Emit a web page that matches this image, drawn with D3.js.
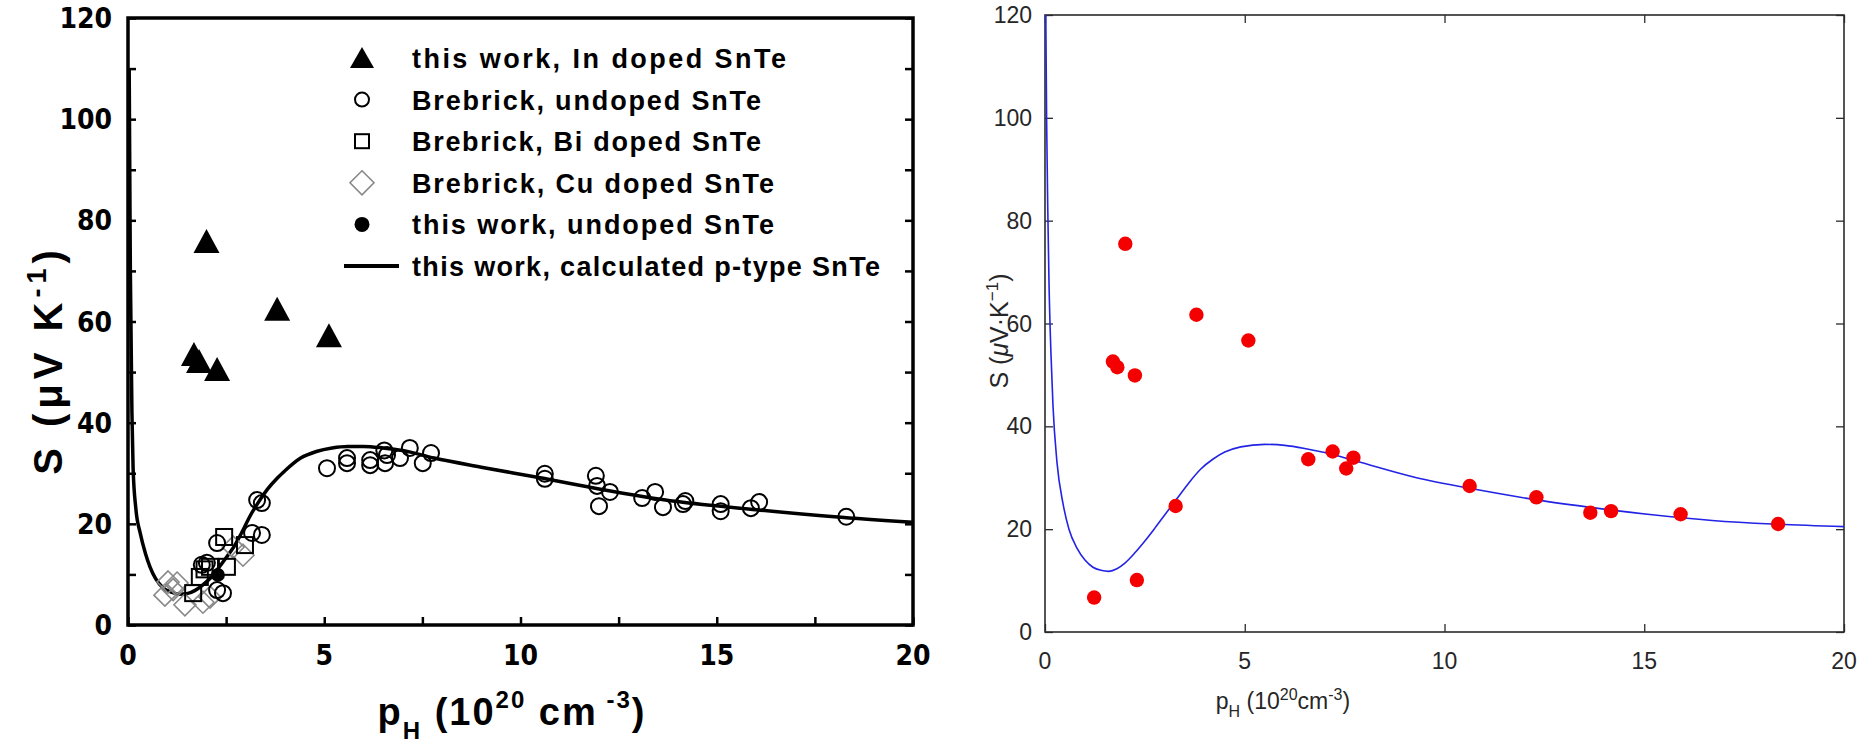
<!DOCTYPE html>
<html><head><meta charset="utf-8">
<script src="https://cdn.jsdelivr.net/npm/d3@7"></script>
<style>
html,body{margin:0;padding:0;background:#fff;}
svg{display:block;}
</style>
</head><body>
<svg id="chart" width="1873" height="745"></svg>
<script>
// ---------- Left panel data ----------
const xTicks = [0, 5, 10, 15, 20];
const yTicks = [0, 20, 40, 60, 80, 100, 120];

const inDopedX = [2.0, 3.8, 5.12, 1.68, 1.81, 2.27];
const inDopedS = [75.7, 62.3, 57.1, 53.4, 52.0, 50.4];

const brebUndopedX = [5.07,5.58,5.58,6.17,6.17,6.55,6.6,6.93,7.18,7.51,7.72,6.53,10.62,10.62,11.92,11.95,12.28,12.0,13.1,13.43,13.63,14.14,14.2,15.1,15.1,15.87,16.08,18.3,3.29,3.41,3.41,3.16,2.27,2.27,2.42,2.01,1.88];
const brebUndopedS = [31.0,33.0,32.0,32.6,31.6,32.0,33.6,33.0,35.0,32.0,34.0,34.5,29.9,28.9,29.5,27.5,26.3,23.5,25.1,26.3,23.3,23.9,24.5,23.9,22.5,23.1,24.3,21.4,24.7,24.1,17.8,18.2,16.2,6.9,6.3,12.3,11.9];

const brebBiX = [2.45, 2.98, 1.83, 1.66, 2.09, 2.52, 1.95];
const brebBiS = [17.4, 15.8, 9.5, 6.3, 11.5, 11.5, 11.0];

const brebCuX = [1.02, 1.25, 0.94, 1.45, 1.91, 2.93, 2.68, 2.09, 1.15];
const brebCuS = [8.5, 8.3, 5.9, 4.0, 4.5, 13.8, 15.4, 5.5, 7.0];

const thisUndopedX = [2.29];
const thisUndopedS = [9.9];

const calcLeftX = [0.03,0.06,0.1,0.13,0.2,0.31,0.45,0.56,0.7,0.9,1.1,1.3,1.5,1.7,1.9,2.1,2.3,2.5,2.7,2.9,3.1,3.3,3.55,3.8,4.0,4.4,4.8,5.2,5.6,6.0,6.5,7.0,7.8,9.0,10.5,12.0,14.0,16.0,18.0,20.0];
const calcLeftS = [110,70,42,31,23,18.2,14,11.5,9.2,7.3,6.5,6.1,6.2,6.8,7.9,9.3,11.2,13.3,15.5,18.3,21.4,24.0,26.8,29.0,30.5,33.0,34.3,35.0,35.3,35.3,35.0,34.5,33.0,31.2,29.1,26.9,24.4,22.8,21.4,20.3];

const legendLabels = ["this work, In doped SnTe","Brebrick, undoped SnTe","Brebrick, Bi doped SnTe","Brebrick, Cu doped SnTe","this work, undoped SnTe","this work, calculated p-type SnTe"];

// ---------- Right panel data ----------
const redX = [2.01,3.79,5.09,1.70,1.81,2.25,1.23,2.30,3.27,6.59,7.20,7.54,7.72,10.63,12.30,13.65,14.17,15.91,18.35];
const redS = [75.5,61.7,56.7,52.6,51.5,49.9,6.7,10.1,24.5,33.6,35.1,31.8,33.9,28.4,26.2,23.2,23.5,22.9,21.0];

const calcRightX = [0.02,0.04,0.07,0.1,0.15,0.2,0.3,0.45,0.6,0.8,1.0,1.2,1.4,1.6,1.8,2.0,2.25,2.5,2.75,3.0,3.3,3.6,3.9,4.2,4.5,4.9,5.5,6.0,6.5,7.0,7.8,9.3,10.8,12.3,13.8,15.2,16.7,18.2,20.0];
const calcRightS = [120,100,82,68,54,44,33,25,20,16.3,14,12.6,12,11.8,12.3,13.4,15.4,17.7,20.2,22.8,25.9,29,31.7,33.6,35,36,36.5,36.3,35.7,34.9,33.2,30.0,27.7,25.7,24.1,22.8,21.7,21.0,20.5];

const svg = d3.select("#chart");
const zip = (xs, ys) => xs.map((x, i) => [x, ys[i]]);

// ================= LEFT PANEL =================
(function(){
  const L = {x0:128, x1:913, y0:625, y1:18};
  const x = d3.scaleLinear().domain([0,20]).range([L.x0, L.x1]);
  const y = d3.scaleLinear().domain([0,120]).range([L.y0, L.y1]);
  const g = svg.append("g");
  const bold = "'Liberation Sans Narrow','DejaVu Sans Condensed','Liberation Sans',Arial,sans-serif";
  const wide = "'Liberation Sans',Arial,sans-serif";

  svg.append("clipPath").attr("id", "clipL").append("rect")
    .attr("x", L.x0).attr("y", L.y1).attr("width", L.x1-L.x0).attr("height", L.y0-L.y1);

  const minorX = d3.range(0, 20.01, 2.5);
  const minorY = d3.range(0, 120.01, 10);
  g.append("g").attr("transform", `translate(0,${L.y0})`)
    .call(d3.axisTop(x).tickValues(minorX).tickSize(8).tickFormat(""));
  g.append("g").attr("transform", `translate(${L.x0},0)`)
    .call(d3.axisRight(y).tickValues(minorY).tickSize(8).tickFormat(""));
  g.append("g").attr("transform", `translate(${L.x1},0)`)
    .call(d3.axisLeft(y).tickValues(minorY).tickSize(8).tickFormat(""));
  g.selectAll(".domain").remove();
  g.selectAll(".tick line").attr("stroke", "#000").attr("stroke-width", 2.5);

  g.append("rect").attr("x", L.x0).attr("y", L.y1).attr("width", L.x1-L.x0).attr("height", L.y0-L.y1)
    .attr("fill", "none").attr("stroke", "#000").attr("stroke-width", 3.5);

  g.append("g").selectAll("text").data(xTicks).join("text")
    .attr("x", d => x(d)).attr("y", 665).attr("text-anchor", "middle")
    .attr("font-family", bold).attr("font-weight", "bold").attr("font-size", 28)
    .text(d => d);
  g.append("g").selectAll("text").data(yTicks).join("text")
    .attr("x", 112).attr("y", d => y(d) + 10).attr("text-anchor", "end")
    .attr("font-family", bold).attr("font-weight", "bold").attr("font-size", 28)
    .text(d => d);

  // axis titles
  const yl = g.append("text").attr("transform", "translate(62,360) rotate(-90)")
    .attr("text-anchor", "middle").attr("font-family", wide).attr("font-weight", "bold").attr("font-size", 40)
    .attr("letter-spacing", 5);
  yl.append("tspan").text("S  (μV K");
  yl.append("tspan").attr("dy", -16).attr("font-size", 27).text("-1");
  yl.append("tspan").attr("dy", 16).text(")");

  const xl = g.append("text").attr("x", 512).attr("y", 725)
    .attr("text-anchor", "middle").attr("font-family", wide).attr("font-weight", "bold").attr("font-size", 38)
    .attr("letter-spacing", 2);
  xl.append("tspan").text("p");
  xl.append("tspan").attr("dy", 14).attr("font-size", 24).text("H");
  xl.append("tspan").attr("dy", -14).text(" (10");
  xl.append("tspan").attr("dy", -17).attr("font-size", 24).text("20");
  xl.append("tspan").attr("dy", 17).text(" cm");
  xl.append("tspan").attr("dy", -17).attr("font-size", 24).text(" -3");
  xl.append("tspan").attr("dy", 17).text(")");

  const plot = g.append("g").attr("clip-path", "url(#clipL)");

  plot.append("path").datum(zip(calcLeftX, calcLeftS))
    .attr("d", d3.line().x(d => x(d[0])).y(d => y(d[1])).curve(d3.curveMonotoneX))
    .attr("fill", "none").attr("stroke", "#000").attr("stroke-width", 3.5);

  plot.append("g").selectAll("path").data(zip(brebCuX, brebCuS)).join("path")
    .attr("transform", d => `translate(${x(d[0])},${y(d[1])})`)
    .attr("d", "M0,-11L11,0L0,11L-11,0Z")
    .attr("fill", "none").attr("stroke", "#888").attr("stroke-width", 1.6);
  plot.append("g").selectAll("rect").data(zip(brebBiX, brebBiS)).join("rect")
    .attr("x", d => x(d[0]) - 8).attr("y", d => y(d[1]) - 8).attr("width", 16).attr("height", 16)
    .attr("fill", "none").attr("stroke", "#000").attr("stroke-width", 2);
  plot.append("g").selectAll("circle").data(zip(brebUndopedX, brebUndopedS)).join("circle")
    .attr("cx", d => x(d[0])).attr("cy", d => y(d[1])).attr("r", 8)
    .attr("fill", "none").attr("stroke", "#000").attr("stroke-width", 2);
  plot.append("g").selectAll("circle").data(zip(thisUndopedX, thisUndopedS)).join("circle")
    .attr("cx", d => x(d[0])).attr("cy", d => y(d[1])).attr("r", 7).attr("fill", "#000");
  plot.append("g").selectAll("path").data(zip(inDopedX, inDopedS)).join("path")
    .attr("transform", d => `translate(${x(d[0])},${y(d[1])})`)
    .attr("d", "M0,-13L13,11L-13,11Z").attr("fill", "#000");

  // legend
  const lg = g.append("g");
  const lx = 362, ly0 = 58, dy = 41.6;
  const widths = [374, 349, 349, 362, 362, 468];
  lg.append("path").attr("transform", `translate(${lx},${ly0})`).attr("d", "M0,-11L12,10L-12,10Z").attr("fill", "#000");
  lg.append("circle").attr("cx", lx).attr("cy", ly0 + dy).attr("r", 7).attr("fill", "none").attr("stroke", "#000").attr("stroke-width", 2);
  lg.append("rect").attr("x", lx - 7).attr("y", ly0 + 2*dy - 7).attr("width", 14).attr("height", 14).attr("fill", "none").attr("stroke", "#000").attr("stroke-width", 2);
  lg.append("path").attr("transform", `translate(${lx},${ly0 + 3*dy})`).attr("d", "M0,-12L12,0L0,12L-12,0Z").attr("fill", "none").attr("stroke", "#888").attr("stroke-width", 1.6);
  lg.append("circle").attr("cx", lx).attr("cy", ly0 + 4*dy).attr("r", 7.5).attr("fill", "#000");
  lg.append("line").attr("x1", 344).attr("x2", 399).attr("y1", ly0 + 5*dy).attr("y2", ly0 + 5*dy).attr("stroke", "#000").attr("stroke-width", 4);
  lg.selectAll("text.lt").data(legendLabels).join("text").attr("class", "lt")
    .attr("x", 412).attr("y", (d, i) => ly0 + i*dy + 10)
    .attr("font-family", wide).attr("font-weight", "bold").attr("font-size", 27)
    .attr("textLength", (d, i) => widths[i]).attr("lengthAdjust", "spacing")
    .text(d => d);
})();

// ================= RIGHT PANEL =================
(function(){
  const R = {x0:1045, x1:1844, y0:632, y1:15};
  const x = d3.scaleLinear().domain([0,20]).range([R.x0, R.x1]);
  const y = d3.scaleLinear().domain([0,120]).range([R.y0, R.y1]);
  const g = svg.append("g");
  const font = "'Liberation Sans',Arial,Helvetica,sans-serif";
  const axisCol = "#2b2b2b";

  svg.append("clipPath").attr("id", "clipR").append("rect")
    .attr("x", R.x0).attr("y", R.y1 - 1).attr("width", R.x1-R.x0).attr("height", R.y0-R.y1 + 1);

  const tk = 8;
  g.append("g").attr("transform", `translate(0,${R.y0})`).call(d3.axisTop(x).tickValues(xTicks).tickSize(tk).tickFormat(""));
  g.append("g").attr("transform", `translate(0,${R.y1})`).call(d3.axisBottom(x).tickValues(xTicks).tickSize(tk).tickFormat(""));
  g.append("g").attr("transform", `translate(${R.x0},0)`).call(d3.axisRight(y).tickValues(yTicks).tickSize(tk).tickFormat(""));
  g.append("g").attr("transform", `translate(${R.x1},0)`).call(d3.axisLeft(y).tickValues(yTicks).tickSize(tk).tickFormat(""));
  g.selectAll(".domain").remove();
  g.selectAll(".tick line").attr("stroke", axisCol).attr("stroke-width", 1.3);

  g.append("rect").attr("x", R.x0).attr("y", R.y1).attr("width", R.x1-R.x0).attr("height", R.y0-R.y1)
    .attr("fill", "none").attr("stroke", axisCol).attr("stroke-width", 1.6);

  g.append("g").selectAll("text").data(xTicks).join("text")
    .attr("x", d => x(d)).attr("y", 669).attr("text-anchor", "middle")
    .attr("font-family", font).attr("font-size", 23).attr("fill", "#262626").text(d => d);
  g.append("g").selectAll("text").data(yTicks).join("text")
    .attr("x", 1032).attr("y", d => y(d) + 8).attr("text-anchor", "end")
    .attr("font-family", font).attr("font-size", 23).attr("fill", "#262626").text(d => d);

  const yl = g.append("text").attr("transform", "translate(1008,331) rotate(-90)")
    .attr("text-anchor", "middle").attr("font-family", font).attr("font-size", 25).attr("fill", "#262626");
  yl.append("tspan").text("S (");
  yl.append("tspan").attr("font-style", "italic").text("μ");
  yl.append("tspan").text("V·K");
  yl.append("tspan").attr("dy", -10).attr("font-size", 17).text("−1");
  yl.append("tspan").attr("dy", 10).text(")");

  const xl = g.append("text").attr("x", 1283).attr("y", 709)
    .attr("text-anchor", "middle").attr("font-family", font).attr("font-size", 23).attr("fill", "#262626");
  xl.append("tspan").text("p");
  xl.append("tspan").attr("dy", 8).attr("font-size", 16).text("H");
  xl.append("tspan").attr("dy", -8).text(" (10");
  xl.append("tspan").attr("dy", -9).attr("font-size", 16).text("20");
  xl.append("tspan").attr("dy", 9).text("cm");
  xl.append("tspan").attr("dy", -9).attr("font-size", 16).text("-3");
  xl.append("tspan").attr("dy", 9).text(")");

  const plot = g.append("g").attr("clip-path", "url(#clipR)");
  plot.append("path").datum(zip(calcRightX, calcRightS))
    .attr("d", d3.line().x(d => x(d[0])).y(d => y(d[1])).curve(d3.curveMonotoneX))
    .attr("fill", "none").attr("stroke", "#2323e6").attr("stroke-width", 1.6);
  plot.append("g").selectAll("circle").data(zip(redX, redS)).join("circle")
    .attr("cx", d => x(d[0])).attr("cy", d => y(d[1])).attr("r", 7.2).attr("fill", "#f40000");
})();
</script>
</body></html>
